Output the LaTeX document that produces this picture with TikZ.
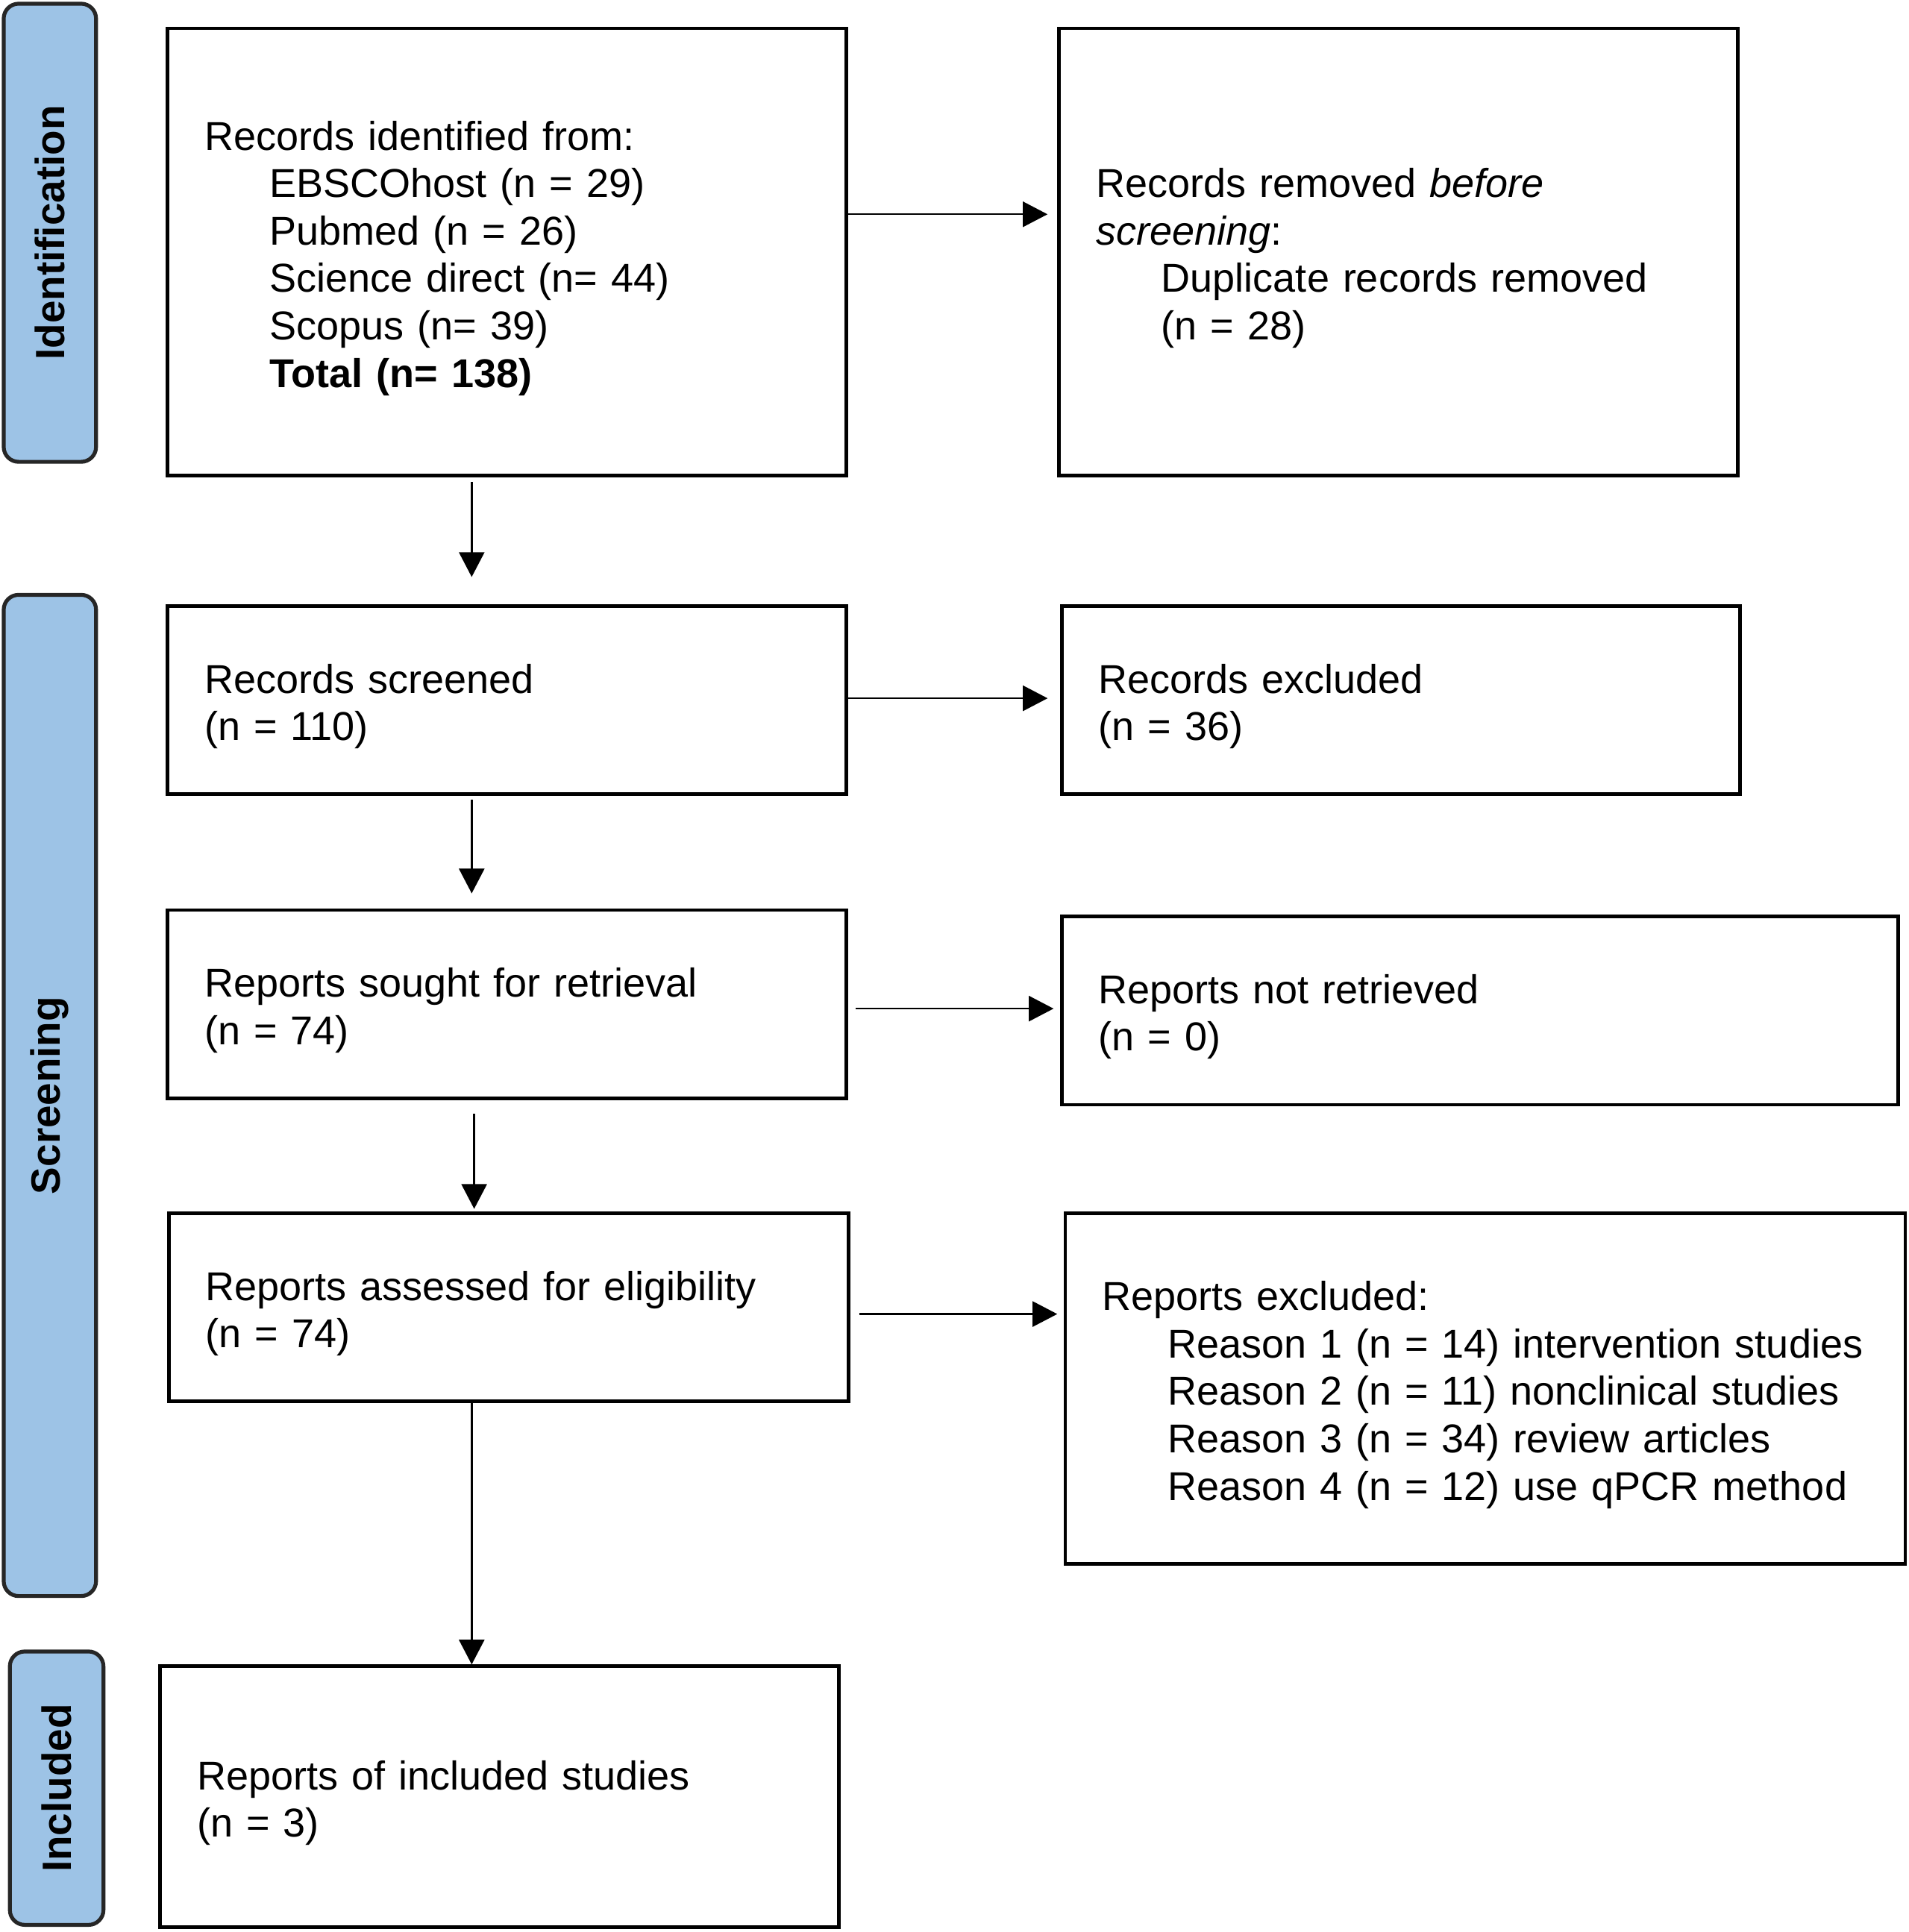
\documentclass[tikz,border=0pt]{standalone}
\usepackage{fontspec}
\setmainfont{Liberation Sans}
\usetikzlibrary{arrows.meta}
\definecolor{lblue}{HTML}{9DC3E6}
\newcommand\myind{\hspace*{21.9pt}}
\newcommand\pbox[6]{%
  \pgfmathsetlengthmacro\bw{(#4-#2)*0.41274pt}%
  \pgfmathsetlengthmacro\bh{(#5-#3)*0.41274pt}%
  \pgfmathsetlengthmacro\tw{(#4-#2-60)*0.41274pt}%
  \node[box, minimum width=\bw, minimum height=\bh, text width=\tw] (#1) at ({(#2+#4)/2},{(#3+#5)/2}) {\rule{0pt}{14pt}#6};}
\newcommand\plab[6]{%
  \pgfmathsetlengthmacro\bw{(#4-#2)*0.41274pt}%
  \pgfmathsetlengthmacro\bh{(#5-#3)*0.41274pt}%
  \node[lab, minimum width=\bh, minimum height=\bw, rotate=90] (#1) at ({(#2+#4)/2},{(#3+#5)/2}) {#6};}
\begin{document}
\begin{tikzpicture}[x=0.41274pt, y=-0.41274pt,
  box/.style={draw=black, line width=1.2pt, fill=white, inner xsep=12.38pt, inner ysep=0pt, align=left,
    font=\fontsize{13.5}{15.9}\selectfont},
  lab/.style={draw=black!85, line width=1.3pt, fill=lblue, rounded corners=5pt, inner sep=0pt, font=\fontsize{13.7}{15.9}\selectfont\bfseries},
  arr/.style={-{Triangle[length=8.3pt,width=8.5pt]}, line width=0.6pt}]
\useasboundingbox (0,0) rectangle (1550,1568.8);

% phase labels
\plab{l1}{3}{3}{78}{375}{Identification}
\plab{l2}{3}{483}{78}{1296}{Screening}
\plab{l3}{8}{1341}{84}{1563}{Included}

% boxes
\pbox{b1}{136}{23}{687}{386}{Records identified from:\\
\myind EBSCOhost (n = 29)\\
\myind Pubmed (n = 26)\\
\myind Science direct (n= 44)\\
\myind Scopus (n= 39)\\
\myind \textbf{Total (n= 138)}}
\pbox{b2}{860}{23}{1411}{386}{Records removed \textit{before}\\
\textit{screening}:\\
\myind Duplicate records removed\\
\myind (n = 28)}
\pbox{b3}{136}{492}{687}{645}{Records screened\\(n = 110)}
\pbox{b4}{862}{492}{1413}{645}{Records excluded\\(n = 36)}
\pbox{b5}{136}{739}{687}{892}{Reports sought for retrieval\\(n = 74)}
\pbox{b6}{862}{744}{1541}{897}{Reports not retrieved\\(n = 0)}
\pbox{b7}{137}{985}{689}{1138}{Reports assessed for eligibility\\(n = 74)}
\pbox{b8}{865}{985}{1547}{1270}{Reports excluded:\\
\myind\mbox{Reason 1 (n = 14) intervention studies}\\
\myind\mbox{Reason 2 (n = 11) nonclinical studies}\\
\myind\mbox{Reason 3 (n = 34) review articles}\\
\myind\mbox{Reason 4 (n = 12) use qPCR method}}
\pbox{b9}{130}{1353}{681}{1565}{Reports of included studies\\(n = 3)}

% connector guides
\coordinate (h1) at (0,174);
\coordinate (h2) at (0,567);
\coordinate (h3) at (0,819);
\coordinate (h4) at (0,1067);
\coordinate (v1) at (383,0);
\coordinate (v3) at (385,0);

% horizontal arrows
\draw[arr, shorten >=3.3pt] (b1.east |- h1) -- (b2.west |- h1);
\draw[arr, shorten >=4.1pt] (b3.east |- h2) -- (b4.west |- h2);
\draw[arr, shorten <=2.5pt, shorten >=2.1pt] (b5.east |- h3) -- (b6.west |- h3);
\draw[arr, shorten <=2.9pt, shorten >=2.1pt] (b7.east |- h4) -- (b8.west |- h4);

% vertical arrows
\draw[arr, shorten <=1.6pt, shorten >=9.1pt] (b1.south -| v1) -- (b3.north -| v1);
\draw[arr, shorten <=1.2pt, shorten >=5pt] (b3.south -| v1) -- (b5.north -| v1);
\draw[arr, shorten <=4.5pt, shorten >=0.8pt] (b5.south -| v3) -- (b7.north -| v3);
\draw[arr] (b7.south -| v1) -- (b9.north -| v1);
\end{tikzpicture}
\end{document}
